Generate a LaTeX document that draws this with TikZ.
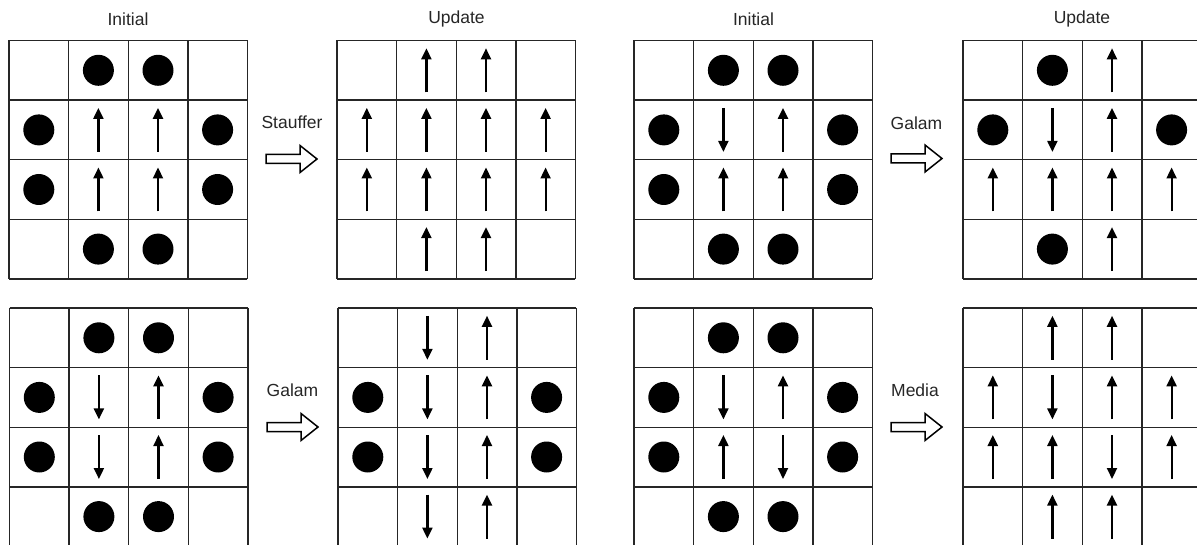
\documentclass[tikz,border=0pt]{standalone}
\usepackage{fontspec}
\setmainfont{Liberation Sans}
\usetikzlibrary{arrows.meta}

% one lattice: origin (top left), then rows of cells
% e = empty, d = dot, u = spin up, n = spin down
\newcommand{\lattice}[3]{%
  \foreach \k in {0,...,4} {
    \draw[cellline] ({#1+\k*\cellSize},#2) -- ({#1+\k*\cellSize},{#2+4*\cellSize});
    \draw[cellline] (#1,{#2+\k*\cellSize}) -- ({#1+4*\cellSize},{#2+\k*\cellSize});
  }
  \foreach \row [count=\r] in {#3} {
    \foreach \s [count=\c] in \row {
      \pgfmathsetmacro{\cx}{#1+(\c-0.5)*\cellSize}
      \pgfmathsetmacro{\cy}{#2+(\r-0.5)*\cellSize}
      \if\s d \fill[dot] (\cx,\cy) circle (\dotRadius); \fi
      \if\s u \draw[spin] (\cx,{\cy+\spinHalf}) -- (\cx,{\cy-\spinHalf}); \fi
      \if\s n \draw[spin] (\cx,{\cy-\spinHalf}) -- (\cx,{\cy+\spinHalf}); \fi
    }
  }%
}

% hollow block arrow: left end and middle height
\newcommand{\blockarrow}[2]{%
  \draw[hollowarrow] (#1,{#2-4.5}) -- ({#1+34},{#2-4.5}) -- ({#1+34},{#2-13.5})
    -- ({#1+51},#2) -- ({#1+34},{#2+13.5}) -- ({#1+34},{#2+4.5}) -- (#1,{#2+4.5}) -- cycle;%
}

\begin{document}
\begin{tikzpicture}[
    x=1pt, y=-1pt,
    cellline/.style={line width=1.4pt, black!85},
    dot/.style={fill=black},
    spin/.style={line width=2.2pt, -{Triangle[length=11pt,width=10pt]}},
    hollowarrow/.style={line width=1.5pt, fill=white, line join=miter},
    caption/.style={font=\fontsize{17.5}{20}\selectfont, text=black!85, inner sep=0pt}
]

% Define sizes
\def\cellSize{59.6}
\def\dotRadius{15.5}
\def\spinHalf{22}

\useasboundingbox (0,0) rectangle (1197,545);
\clip (0,0) rectangle (1197,545);

% --- Top row ---
\node[caption] (initA) at (128,19) {Initial};
\node[caption] (updA) at (456.5,19) {Update};
\node[caption] (initB) at (753.5,19) {Initial};
\node[caption] (updB) at (1082,19) {Update};

\lattice{9}{40.5}{{e,d,d,e},{d,u,u,d},{d,u,u,d},{e,d,d,e}}
\lattice{337}{40.5}{{e,u,u,e},{u,u,u,u},{u,u,u,u},{e,u,u,e}}
\lattice{634}{40.5}{{e,d,d,e},{d,n,u,d},{d,u,u,d},{e,d,d,e}}
\lattice{963}{40.5}{{e,d,u,e},{d,n,u,d},{u,u,u,u},{e,d,u,e}}

\node[caption] (stauffer) at (292,122) {Stauffer};
\blockarrow{266}{159}
\node[caption] (galamA) at (916.5,123) {Galam};
\blockarrow{891}{158.5}

% --- Bottom row ---
\lattice{9.5}{308}{{e,d,d,e},{d,n,u,d},{d,n,u,d},{e,d,d,e}}
\lattice{338}{308}{{e,n,u,e},{d,n,u,d},{d,n,u,d},{e,n,u,e}}
\lattice{634}{308}{{e,d,d,e},{d,n,u,d},{d,u,n,d},{e,d,d,e}}
\lattice{963}{308}{{e,u,u,e},{u,n,u,u},{u,u,n,u},{e,u,u,e}}

\node[caption] (galamB) at (292.5,390) {Galam};
\blockarrow{267}{427}
\node[caption] (media) at (915,390) {Media};
\blockarrow{891}{427}

\end{tikzpicture}
\end{document}
